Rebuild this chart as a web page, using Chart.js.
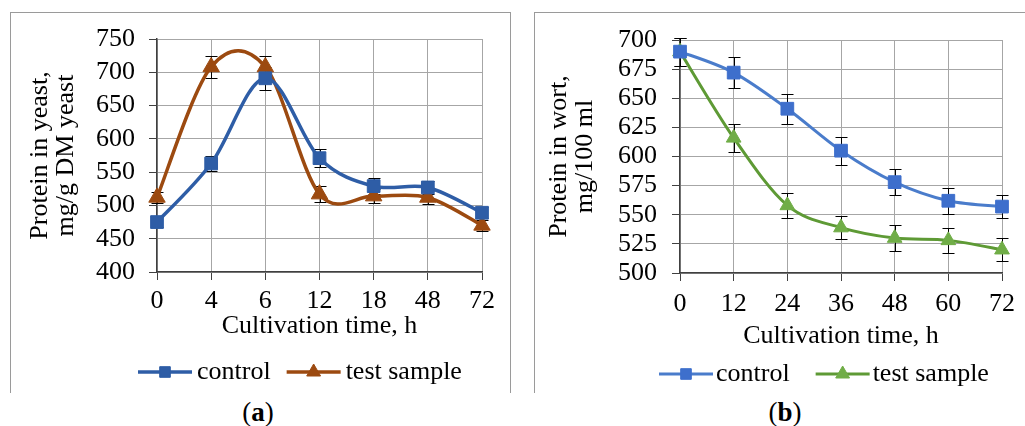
<!DOCTYPE html>
<html><head><meta charset="utf-8">
<script src="https://cdn.jsdelivr.net/npm/chart.js@4.4.0/dist/chart.umd.min.js"></script>
<style>
html,body{margin:0;padding:0;background:#fff;}
body{width:1025px;height:426px;position:relative;overflow:hidden;font-family:"Liberation Serif",serif;}
.frame{position:absolute;box-sizing:border-box;}
#fa{left:10px;top:12px;width:501px;height:381px;border-top:1.5px solid #9a9a9a;border-left:1.5px solid #9a9a9a;border-right:1.5px solid #9a9a9a;}
#fb{left:534px;top:12px;width:495px;height:381px;border-top:1.5px solid #9a9a9a;border-left:1.5px solid #9a9a9a;}
canvas{position:absolute;}
#ca{left:10px;top:12px;}
#cb{left:534px;top:12px;}
.cap{position:absolute;top:397px;width:80px;text-align:center;font-size:27px;line-height:30px;color:#000;font-family:"Liberation Serif",serif;}
.cap b{font-weight:bold;}
</style></head>
<body>
<div class="frame" id="fa"></div>
<div class="frame" id="fb"></div>
<canvas id="ca" width="501" height="381"></canvas>
<canvas id="cb" width="491" height="381"></canvas>
<div class="cap" style="left:218px">(<b>a</b>)</div>
<div class="cap" style="left:745px">(<b>b</b>)</div>
<script>
// ---- Data ----
const catsA = ['0', '4', '6', '12', '18', '48', '72'];
const controlA = [475, 563, 691, 571, 529, 527, 489];
const testA = [512, 708, 708, 517, 514, 512, 470];
const errControlA = [8, 12, 17, 14, 12, 10, 8];
const errTestA = [8, 17, 17, 12, 10, 10, 8];
const yTicksA = {min: 400, max: 750, step: 50};

const catsB = ['0', '12', '24', '36', '48', '60', '72'];
const controlB = [690, 672, 641, 605, 578, 562, 557];
const testB = [690, 616, 558, 539, 530, 528, 520];
const errControlB = [12, 13, 13, 12, 11, 11, 10];
const errTestB = [12, 12, 11, 10, 11, 11, 10];
const yTicksB = {min: 500, max: 700, step: 25};

const seriesNames = ['control', 'test sample'];
const xTitle = 'Cultivation time, h';
const yTitleA = ['Protein in yeast,', 'mg/g DM yeast'];
const yTitleB = ['Protein in wort,', 'mg/100 ml'];

const FONT = '"Liberation Serif", "Times New Roman", serif';

// Spreadsheet-style smoothing (uniform Catmull-Rom) applied to the
// control points of the points Chart.js has laid out on its scales.
const catmullRom = {
  id: 'catmullRom',
  beforeDatasetDraw(chart, args) {
    const meta = args.meta;
    const line = meta.dataset;
    if (!line) return;
    line.updateControlPoints(chart.chartArea, meta.iScale.axis);
    const pts = meta.data;
    const n = pts.length;
    for (let i = 0; i < n; i++) {
      const p0 = pts[Math.max(i - 1, 0)], p1 = pts[i], p2 = pts[Math.min(i + 1, n - 1)];
      const dx = (p2.x - p0.x) / 6, dy = (p2.y - p0.y) / 6;
      p1.cp1x = p1.x - dx; p1.cp1y = p1.y - dy;
      p1.cp2x = p1.x + dx; p1.cp2y = p1.y + dy;
    }
    line._path = undefined;
  }
};

const errorBars = {
  id: 'errorBars',
  beforeDatasetsDraw(chart) {
    const ctx = chart.ctx, y = chart.scales.y;
    ctx.save();
    ctx.strokeStyle = '#000';
    ctx.lineWidth = 1;
    chart.data.datasets.forEach((ds, i) => {
      const meta = chart.getDatasetMeta(i);
      meta.data.forEach((pt, j) => {
        const e = ds.errors[j], v = ds.data[j];
        const yt = Math.round(y.getPixelForValue(v + e)) + 0.5;
        const yb = Math.round(y.getPixelForValue(v - e)) + 0.5;
        const x = Math.round(pt.x) + 0.5;
        ctx.beginPath();
        ctx.moveTo(x, yt); ctx.lineTo(x, yb);
        ctx.moveTo(x - 6, yt); ctx.lineTo(x + 6, yt);
        ctx.moveTo(x - 6, yb); ctx.lineTo(x + 6, yb);
        ctx.stroke();
      });
    });
    ctx.restore();
  }
};

const lineLegend = {
  id: 'lineLegend',
  afterDraw(chart, args, opts) {
    const ctx = chart.ctx;
    ctx.save();
    ctx.font = '26px ' + FONT;
    ctx.textBaseline = 'alphabetic';
    ctx.textAlign = 'left';
    let x = opts.x;
    chart.data.datasets.forEach((ds) => {
      ctx.strokeStyle = ds.borderColor;
      ctx.lineWidth = ds.borderWidth;
      ctx.beginPath();
      ctx.moveTo(x, opts.y); ctx.lineTo(x + opts.lineLen, opts.y);
      ctx.stroke();
      ctx.fillStyle = ds.pointBackgroundColor;
      ctx.strokeStyle = ds.pointBorderColor;
      ctx.lineWidth = 1;
      Chart.helpers.drawPoint(ctx, {pointStyle: ds.pointStyle, radius: ds.pointStyle === 'rect' ? 7.5 : 8, rotation: 0, borderWidth: 1}, x + opts.lineLen / 2, opts.y);
      x += opts.lineLen + opts.textGap;
      ctx.fillStyle = '#000';
      ctx.fillText(ds.label, x, opts.baseline);
      x += ctx.measureText(ds.label).width + opts.gap;
    });
    ctx.restore();
  }
};

function makeChart(id, cats, ctrl, test, errC, errT, yt, yTitle, cfg) {
  return new Chart(document.getElementById(id), {
    type: 'line',
    data: {
      labels: cats,
      datasets: [
        {label: seriesNames[0], data: ctrl, errors: errC, borderColor: cfg.c1, borderWidth: cfg.lw,
         pointStyle: 'rect', pointRadius: 9, pointBackgroundColor: cfg.m1, pointBorderColor: cfg.m1, pointBorderWidth: 1,
         tension: 0.4, fill: false},
        {label: seriesNames[1], data: test, errors: errT, borderColor: cfg.c2, borderWidth: cfg.lw,
         pointStyle: 'triangle', pointRadius: cfg.tr, pointBackgroundColor: cfg.m2, pointBorderColor: cfg.m2, pointBorderWidth: 1,
         tension: 0.4, fill: false}
      ]
    },
    options: {
      responsive: false,
      animation: false,
      events: [],
      layout: {padding: {left: cfg.padL, top: 15, right: cfg.padR, bottom: cfg.padB}},
      plugins: {
        legend: {display: false},
        tooltip: {enabled: false},
        lineLegend: cfg.legend
      },
      scales: {
        x: {
          type: 'category',
          offset: false,
          afterFit: (s) => { s.height = cfg.xh; },
          grid: {color: '#a6a6a6', lineWidth: 1, tickColor: '#404040', tickLength: 8, drawTicks: true},
          border: {display: true, color: '#404040', width: 1.5},
          ticks: {color: '#000', font: {family: FONT, size: 26, lineHeight: 1}, padding: cfg.xtp, maxRotation: 0, autoSkip: false},
          title: {display: true, text: xTitle, color: '#000', font: {family: FONT, size: 26, lineHeight: 1}, padding: {top: 0, bottom: cfg.xtb}}
        },
        y: {
          min: yt.min, max: yt.max,
          afterFit: (s) => { s.width = cfg.yw; },
          grid: {color: '#a6a6a6', lineWidth: 1, tickColor: '#404040', tickLength: 8, drawTicks: true},
          border: {display: true, color: '#404040', width: 1.5},
          ticks: {stepSize: yt.step, color: '#000', font: {family: FONT, size: 26, lineHeight: 1}, padding: cfg.ytp},
          title: {display: true, text: yTitle, color: '#000', font: {family: FONT, size: 26, lineHeight: 1}, padding: {top: 7, bottom: 0}}
        }
      }
    },
    plugins: [catmullRom, errorBars, lineLegend]
  });
}

makeChart('ca', catsA, controlA, testA, errControlA, errTestA, yTicksA, yTitleA, {
  c1: '#2E5DA6', m1: '#2E5DA6', c2: '#9C4A10', m2: '#9C4A10', lw: 3.5, tr: 9.5,
  padL: 10, padR: 29, padB: 51, xh: 70, xtp: 8, xtb: 3, yw: 137, ytp: 14,
  legend: {x: 128, y: 360, baseline: 367, lineLen: 54, textGap: 5, gap: 16}
});
makeChart('cb', catsB, controlB, testB, errControlB, errTestB, yTicksB, yTitleB, {
  c1: '#4A7CCB', m1: '#3E6FCC', c2: '#5E9A35', m2: '#70AD47', lw: 3, tr: 8.5,
  padL: 5, padR: 20, padB: 40, xh: 80, xtp: 10, xtb: 4, yw: 141, ytp: 15,
  legend: {x: 125, y: 362, baseline: 369, lineLen: 54, textGap: 3, gap: 26}
});
</script>
</body></html>
